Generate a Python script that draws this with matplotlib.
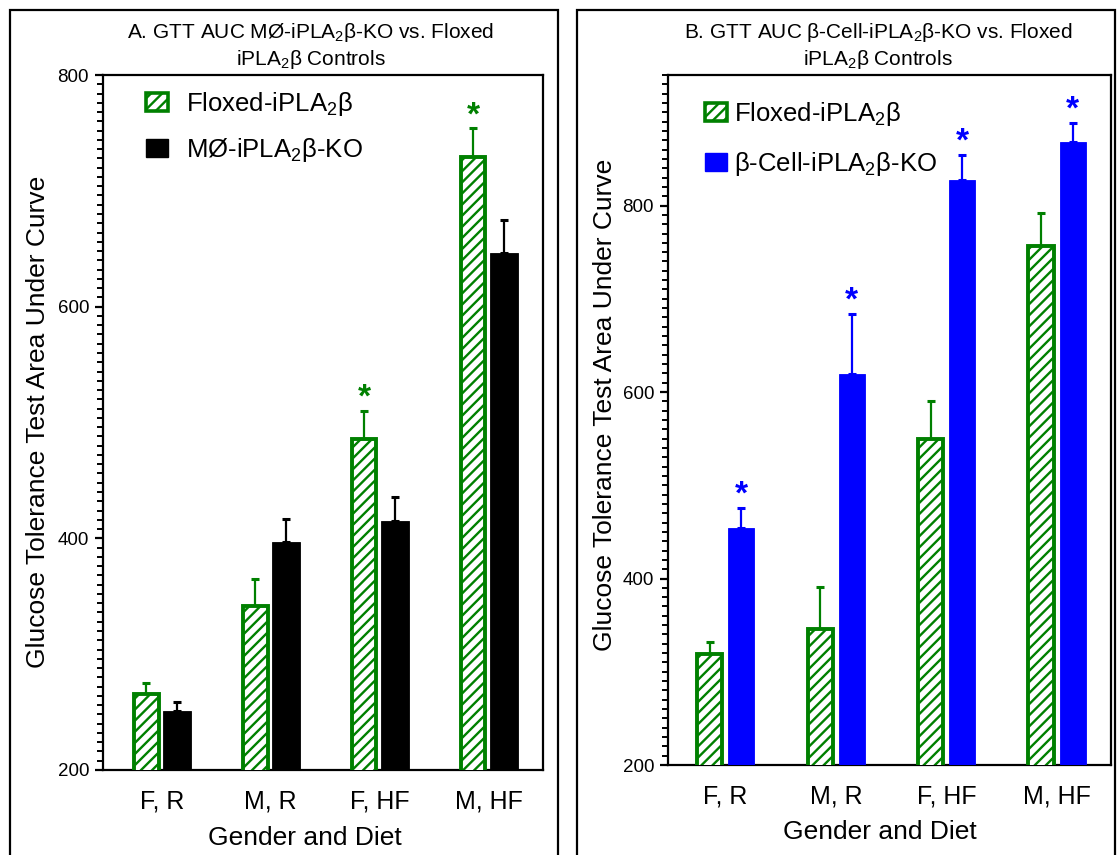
import matplotlib
matplotlib.use("Agg")
import matplotlib.pyplot as plt
import numpy as np
from matplotlib.patches import Rectangle, Patch
from matplotlib.ticker import MultipleLocator

plt.rcParams['font.family'] = ['Liberation Sans', 'DejaVu Sans']
plt.rcParams['mathtext.fontset'] = 'custom'
plt.rcParams['mathtext.rm'] = 'Liberation Sans'
plt.rcParams['hatch.linewidth'] = 1.7

# ---------------- data ----------------
categories = ["F, R", "M, R", "F, HF", "M, HF"]

a_floxed = [266, 342, 486, 729]
a_floxed_err = [9, 23, 24, 25]
a_ko = [251, 397, 415, 646]
a_ko_err = [8, 20, 21, 29]
a_star_floxed = [False, False, True, True]

b_floxed = [319, 346, 550, 757]
b_floxed_err = [13, 45, 40, 35]
b_ko = [454, 619, 827, 868]
b_ko_err = [22, 65, 27, 21]
b_star_ko = [True, True, True, True]

title_a = "A. GTT AUC MØ-iPLA$_\\mathregular{2}$β-KO vs. Floxed\niPLA$_\\mathregular{2}$β Controls"
title_b = "B. GTT AUC β-Cell-iPLA$_\\mathregular{2}$β-KO vs. Floxed\niPLA$_\\mathregular{2}$β Controls"
legend_a = ["Floxed-iPLA$_\\mathregular{2}$β", "MØ-iPLA$_\\mathregular{2}$β-KO"]
legend_b = ["Floxed-iPLA$_\\mathregular{2}$β", "β-Cell-iPLA$_\\mathregular{2}$β-KO"]
ylabel = "Glucose Tolerance Test Area Under Curve"
xlabel = "Gender and Diet"

GREEN = "#008000"
BLUE = "#0000FF"
BLACK = "#000000"

W, H = 1120, 855
fig = plt.figure(figsize=(W / 100, H / 100), dpi=100)


def fx(px):
    return px / W


def fy(py):
    return 1 - py / H


def make_axes(l, t, r, b):
    return fig.add_axes([fx(l), fy(b), fx(r) - fx(l), fy(t) - fy(b)])


# panel frames
for (l, r) in [(10, 558), (577, 1115)]:
    fig.add_artist(Rectangle((fx(l), fy(900)), fx(r) - fx(l), fy(10) - fy(900),
                             transform=fig.transFigure, fill=False,
                             edgecolor="black", linewidth=1.6, clip_on=False))

axA = make_axes(103, 75, 543, 770)
axB = make_axes(668, 75, 1111, 765)

x = np.arange(len(categories))
OFF = 0.142


def draw(ax, flox, flox_err, ko, ko_err, ko_color, star_flox, star_ko,
         ylim, xlim, minor, wg, wk):
    ax.bar(x - OFF, flox, wg, facecolor="white", edgecolor=GREEN,
           hatch="///", linewidth=2.8, zorder=3)
    ax.bar(x + OFF, ko, wk, facecolor=ko_color, edgecolor=ko_color,
           linewidth=0.6, zorder=3)
    ax.errorbar(x - OFF, flox, yerr=[np.zeros(len(flox)), flox_err], fmt="none",
                ecolor=GREEN, elinewidth=1.6, capsize=3, capthick=2.2, zorder=2)
    ax.errorbar(x + OFF, ko, yerr=[np.zeros(len(ko)), ko_err], fmt="none",
                ecolor=ko_color, elinewidth=1.6, capsize=3, capthick=2.2, zorder=2)
    for i in range(len(categories)):
        if star_flox[i]:
            ax.annotate("*", xy=(x[i] - OFF, flox[i] + flox_err[i]),
                        xytext=(0, 3), textcoords="offset points",
                        ha="center", va="baseline", fontsize=24,
                        fontweight="bold", color=GREEN)
        if star_ko[i]:
            ax.annotate("*", xy=(x[i] + OFF, ko[i] + ko_err[i]),
                        xytext=(0, 3), textcoords="offset points",
                        ha="center", va="baseline", fontsize=24,
                        fontweight="bold", color=ko_color)
    ax.set_ylim(*ylim)
    ax.set_xlim(*xlim)
    ax.set_yticks([200, 400, 600, 800])
    ax.yaxis.set_minor_locator(MultipleLocator(minor))
    ax.set_xticks(x)
    ax.set_xticklabels(categories)
    ax.tick_params(axis="y", which="major", direction="out", length=6,
                   width=1.6, labelsize=13.5, pad=4, left=True)
    ax.tick_params(axis="y", which="minor", direction="out", length=4,
                   width=1.4, left=True)
    ax.tick_params(axis="x", which="both", length=0, labelsize=18, pad=14)
    for s in ax.spines.values():
        s.set_linewidth(1.6)


draw(axA, a_floxed, a_floxed_err, a_ko, a_ko_err, BLACK,
     a_star_floxed, [False] * 4, (200, 800), (-0.54, 3.50), 8, 0.225, 0.257)
draw(axB, b_floxed, b_floxed_err, b_ko, b_ko_err, BLUE,
     [False] * 4, b_star_ko, (200, 940), (-0.52, 3.49), 10, 0.23, 0.235)

# legends
hA = [Patch(facecolor="white", edgecolor=GREEN, hatch="///", linewidth=2.6),
      Patch(facecolor=BLACK, edgecolor=BLACK)]
axA.legend(hA, legend_a, loc="upper left", bbox_to_anchor=(fx(146), fy(90)),
           bbox_transform=fig.transFigure, frameon=False, borderpad=0,
           borderaxespad=0, fontsize=18.5, handlelength=0.86,
           handleheight=0.74, handletextpad=0.7, labelspacing=0.7)
hB = [Patch(facecolor="white", edgecolor=GREEN, hatch="///", linewidth=2.6),
      Patch(facecolor=BLUE, edgecolor=BLUE)]
axB.legend(hB, legend_b, loc="upper left", bbox_to_anchor=(fx(705), fy(100)),
           bbox_transform=fig.transFigure, frameon=False, borderpad=0,
           borderaxespad=0, fontsize=18.5, handlelength=0.86,
           handleheight=0.74, handletextpad=0.25, labelspacing=0.85)

# titles and labels
fig.text(fx(311), fy(46), title_a, ha="center", va="center", fontsize=15,
         linespacing=1.25)
fig.text(fx(878), fy(46), title_b, ha="center", va="center", fontsize=15,
         linespacing=1.25)
fig.text(fx(38), fy(422), ylabel, rotation=90, ha="center", va="center",
         fontsize=19)
fig.text(fx(605), fy(405), ylabel, rotation=90, ha="center", va="center",
         fontsize=19)
fig.text(fx(305), fy(838), xlabel, ha="center", va="center", fontsize=19)
fig.text(fx(880), fy(832), xlabel, ha="center", va="center", fontsize=19)

fig.savefig("out.png", dpi=100)
